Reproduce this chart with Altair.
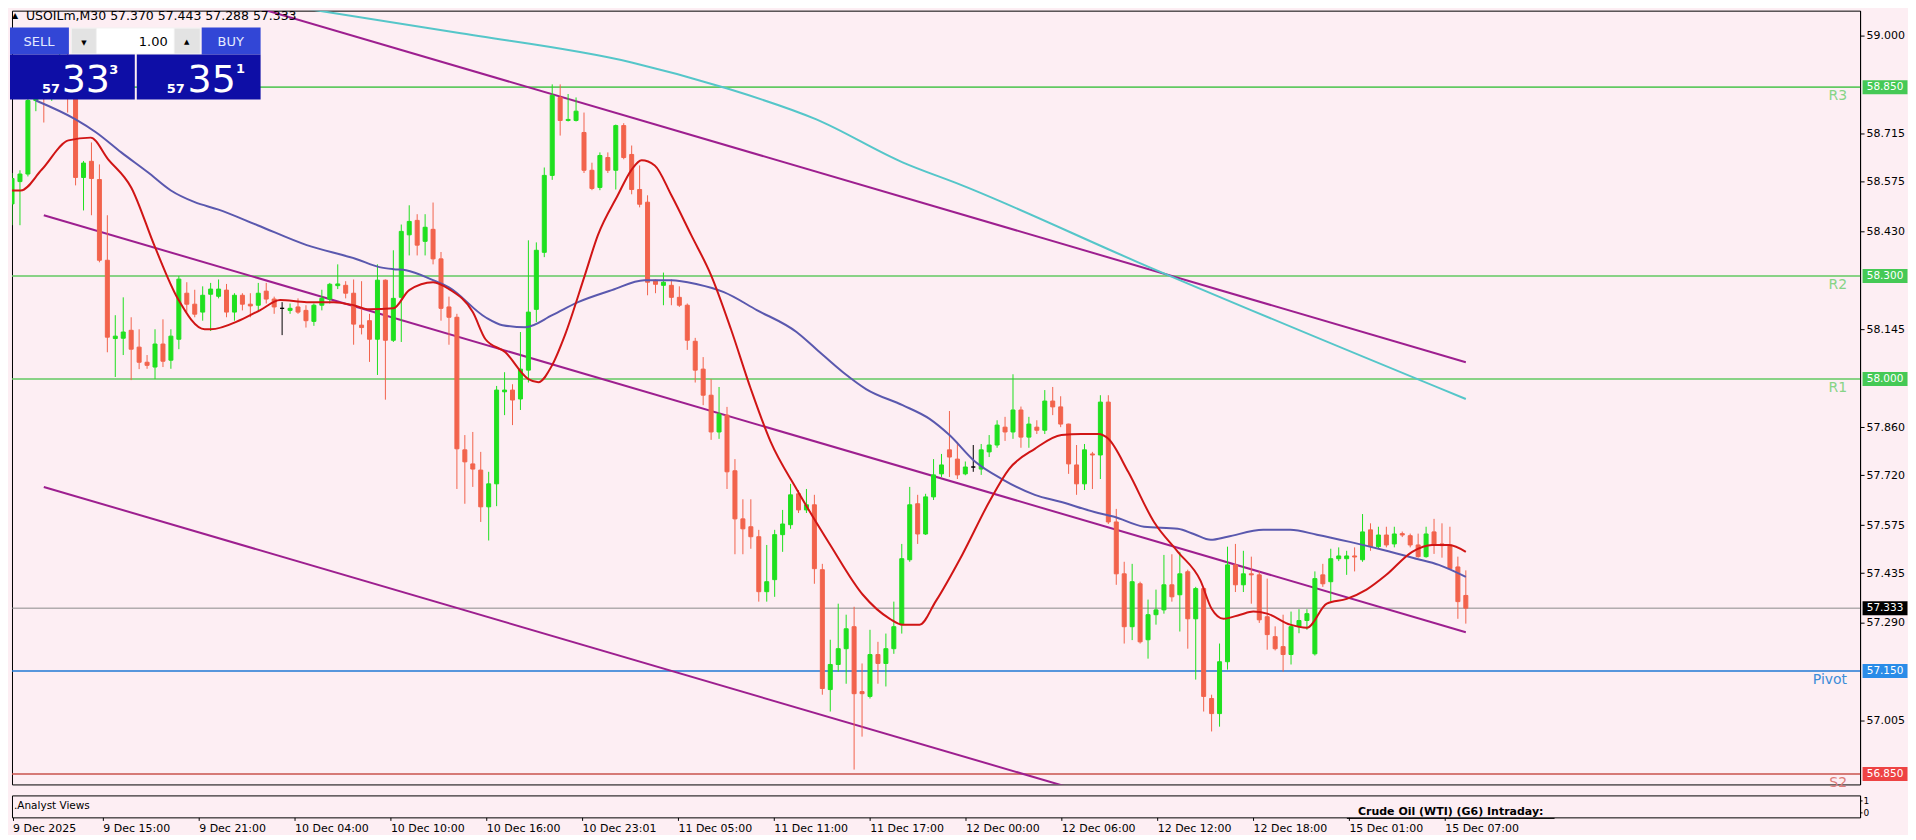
import json
import altair as alt
import pandas as pd

# ---------------- data ----------------
opens = [58.510, 58.575, 58.597, 58.811, 58.880, 58.820, 58.870, 58.900, 58.820, 58.587,
         58.634, 58.581, 58.346, 58.118, 58.119, 58.142, 58.093, 58.049, 58.035, 58.102,
         58.055, 58.116, 58.250, 58.218, 58.195, 58.247, 58.241, 58.259, 58.195, 58.244,
         58.218, 58.215, 58.256, 58.233, 58.206, 58.200, 58.210, 58.200, 58.168, 58.215,
         58.233, 58.272, 58.273, 58.250, 58.157, 58.170, 58.116, 58.288, 58.113, 58.238,
         58.420, 58.462, 58.401, 58.436, 58.350, 58.210, 58.180, 57.794, 57.753, 57.735,
         57.628, 57.695, 57.963, 57.968, 57.942, 58.026, 58.203, 58.369, 58.593, 58.820,
         58.753, 58.753, 58.718, 58.608, 58.558, 58.645, 58.608, 58.738, 58.654, 58.552,
         58.515, 58.288, 58.273, 58.273, 58.238, 58.215, 58.110, 58.029, 57.953, 57.846,
         57.895, 57.733, 57.593, 57.570, 57.541, 57.381, 57.416, 57.547, 57.576, 57.666,
         57.619, 57.634, 57.445, 57.096, 57.169, 57.215, 57.279, 57.090, 57.076, 57.198,
         57.172, 57.215, 57.285, 57.474, 57.637, 57.549, 57.657, 57.724, 57.794, 57.767,
         57.724, 57.744, 57.738, 57.788, 57.808, 57.860, 57.846, 57.910, 57.831, 57.860,
         57.851, 57.936, 57.919, 57.869, 57.750, 57.695, 57.782, 57.779, 57.933, 57.584,
         57.433, 57.279, 57.404, 57.241, 57.314, 57.328, 57.401, 57.372, 57.439, 57.302,
         57.390, 57.070, 57.026, 57.177, 57.459, 57.401, 57.433, 57.430, 57.308, 57.250,
         57.221, 57.198, 57.279, 57.297, 57.200, 57.430, 57.410, 57.477, 57.477, 57.485,
         57.474, 57.561, 57.512, 57.546, 57.520, 57.550, 57.544, 57.517, 57.483, 57.555,
         57.520, 57.517, 57.453, 57.370]
highs = [58.600, 58.608, 58.840, 58.900, 58.920, 58.930, 58.950, 58.960, 58.860, 58.635,
         58.689, 58.625, 58.477, 58.186, 58.238, 58.180, 58.145, 58.070, 58.145, 58.174,
         58.145, 58.300, 58.282, 58.260, 58.270, 58.280, 58.290, 58.277, 58.250, 58.250,
         58.250, 58.280, 58.280, 58.240, 58.224, 58.220, 58.235, 58.215, 58.220, 58.260,
         58.280, 58.334, 58.285, 58.290, 58.285, 58.190, 58.334, 58.290, 58.375, 58.450,
         58.506, 58.480, 58.480, 58.514, 58.370, 58.240, 58.190, 57.837, 57.846, 57.788,
         57.730, 57.980, 58.020, 57.985, 58.137, 58.404, 58.398, 58.616, 58.858, 58.858,
         58.830, 58.820, 58.776, 58.630, 58.660, 58.660, 58.741, 58.745, 58.680, 58.622,
         58.535, 58.290, 58.310, 58.290, 58.270, 58.220, 58.120, 58.064, 58.000, 57.977,
         57.919, 57.767, 57.650, 57.650, 57.561, 57.517, 57.561, 57.619, 57.695, 57.677,
         57.680, 57.663, 57.462, 57.241, 57.346, 57.314, 57.337, 57.172, 57.270, 57.235,
         57.259, 57.352, 57.520, 57.686, 57.663, 57.666, 57.767, 57.782, 57.907, 57.817,
         57.760, 57.808, 57.811, 57.837, 57.880, 57.890, 58.014, 57.920, 57.890, 57.880,
         57.968, 57.977, 57.950, 57.870, 57.808, 57.811, 57.788, 57.953, 57.953, 57.622,
         57.468, 57.462, 57.410, 57.358, 57.387, 57.488, 57.490, 57.497, 57.445, 57.395,
         57.395, 57.081, 57.230, 57.512, 57.520, 57.500, 57.483, 57.440, 57.419, 57.280,
         57.314, 57.323, 57.330, 57.330, 57.440, 57.462, 57.506, 57.510, 57.500, 57.510,
         57.607, 57.580, 57.570, 57.570, 57.570, 57.556, 57.550, 57.550, 57.570, 57.593,
         57.580, 57.570, 57.483, 57.443]
lows = [58.448, 58.448, 58.590, 58.780, 58.747, 58.810, 58.840, 58.776, 58.564, 58.491,
        58.477, 58.340, 58.078, 58.006, 58.070, 57.997, 58.029, 58.030, 58.000, 58.035,
        58.030, 58.087, 58.195, 58.180, 58.170, 58.140, 58.235, 58.180, 58.170, 58.200,
        58.180, 58.200, 58.220, 58.190, 58.128, 58.190, 58.190, 58.150, 58.155, 58.200,
        58.220, 58.262, 58.235, 58.100, 58.130, 58.050, 58.012, 57.940, 58.108, 58.108,
        58.360, 58.360, 58.360, 58.334, 58.170, 58.100, 57.680, 57.637, 57.686, 57.584,
        57.530, 57.630, 57.895, 57.866, 57.910, 57.990, 58.166, 58.355, 58.580, 58.709,
        58.750, 58.750, 58.600, 58.550, 58.550, 58.600, 58.552, 58.640, 58.538, 58.500,
        58.244, 58.250, 58.215, 58.215, 58.210, 58.085, 57.990, 57.924, 57.823, 57.826,
        57.680, 57.490, 57.490, 57.506, 57.352, 57.352, 57.366, 57.497, 57.564, 57.610,
        57.610, 57.404, 57.081, 57.032, 57.148, 57.113, 56.863, 56.959, 57.070, 57.113,
        57.105, 57.200, 57.259, 57.468, 57.520, 57.546, 57.648, 57.715, 57.715, 57.709,
        57.720, 57.730, 57.721, 57.773, 57.800, 57.820, 57.826, 57.800, 57.800, 57.840,
        57.840, 57.895, 57.860, 57.724, 57.663, 57.677, 57.680, 57.709, 57.578, 57.401,
        57.230, 57.240, 57.230, 57.186, 57.285, 57.317, 57.352, 57.265, 57.215, 57.125,
        57.032, 56.974, 56.988, 57.154, 57.380, 57.380, 57.346, 57.290, 57.212, 57.210,
        57.148, 57.169, 57.260, 57.270, 57.195, 57.395, 57.352, 57.470, 57.430, 57.440,
        57.468, 57.500, 57.508, 57.510, 57.510, 57.540, 57.510, 57.480, 57.480, 57.491,
        57.480, 57.445, 57.302, 57.288]
closes = [58.584, 58.597, 58.811, 58.842, 58.820, 58.870, 58.900, 58.860, 58.587, 58.629,
          58.584, 58.346, 58.122, 58.125, 58.137, 58.087, 58.049, 58.040, 58.102, 58.052,
          58.125, 58.291, 58.218, 58.189, 58.244, 58.262, 58.262, 58.195, 58.244, 58.218,
          58.213, 58.250, 58.233, 58.210, 58.206, 58.206, 58.195, 58.170, 58.215, 58.235,
          58.276, 58.277, 58.250, 58.160, 58.150, 58.116, 58.288, 58.113, 58.235, 58.430,
          58.459, 58.390, 58.442, 58.350, 58.206, 58.180, 57.797, 57.759, 57.738, 57.628,
          57.695, 57.968, 57.968, 57.939, 58.029, 58.195, 58.375, 58.593, 58.826, 58.753,
          58.756, 58.780, 58.608, 58.555, 58.651, 58.608, 58.738, 58.645, 58.552, 58.509,
          58.282, 58.276, 58.282, 58.238, 58.215, 58.113, 58.026, 57.953, 57.846, 57.898,
          57.730, 57.593, 57.564, 57.541, 57.381, 57.410, 57.547, 57.578, 57.663, 57.619,
          57.634, 57.448, 57.099, 57.169, 57.215, 57.273, 57.084, 57.084, 57.198, 57.172,
          57.215, 57.279, 57.477, 57.634, 57.549, 57.657, 57.721, 57.750, 57.773, 57.721,
          57.744, 57.744, 57.794, 57.808, 57.866, 57.846, 57.910, 57.831, 57.869, 57.851,
          57.936, 57.919, 57.869, 57.753, 57.695, 57.794, 57.779, 57.933, 57.584, 57.433,
          57.279, 57.410, 57.235, 57.314, 57.328, 57.401, 57.366, 57.433, 57.302, 57.390,
          57.076, 57.026, 57.177, 57.459, 57.401, 57.433, 57.430, 57.299, 57.256, 57.215,
          57.198, 57.279, 57.297, 57.317, 57.419, 57.404, 57.477, 57.485, 57.485, 57.482,
          57.555, 57.512, 57.546, 57.517, 57.549, 57.546, 57.517, 57.483, 57.549, 57.517,
          57.515, 57.448, 57.352, 57.333]

x_tick_labels = ["9 Dec 2025", "9 Dec 15:00", "9 Dec 21:00", "10 Dec 04:00", "10 Dec 10:00",
                 "10 Dec 16:00", "10 Dec 23:01", "11 Dec 05:00", "11 Dec 11:00", "11 Dec 17:00",
                 "12 Dec 00:00", "12 Dec 06:00", "12 Dec 12:00", "12 Dec 18:00", "15 Dec 01:00",
                 "15 Dec 07:00"]
x_tick_bars = [0.7, 12, 24, 36, 48, 60, 72, 84, 96, 108, 120, 132, 144, 156, 168, 180]

y_tick_values = [59.0, 58.715, 58.575, 58.43, 58.145, 57.86, 57.72, 57.575, 57.435, 57.29, 57.005]

# red (fast) moving average
red_ma_bar = [0, 1.1, 3.75, 7.1, 9.9, 12.1, 15, 18, 20.9, 24.25, 25, 28.75, 31.25, 33.75, 37.1,
              40.5, 43, 45, 48, 50, 53, 55, 58, 59.6, 62.1, 65, 66.25, 68, 69.6, 72.1, 73.75,
              76.25, 78, 79.25, 80.9, 83, 85.5, 88, 90.5, 93, 95.5, 98.75, 103, 107.1, 110.5,
              112.1, 114.25, 116.25, 119.6, 123, 125.5, 128.75, 132.1, 134.6, 136.75, 138,
              140.5, 143.75, 146.75, 149.6, 151, 152.5, 154.6, 156.25, 158, 160.9, 163, 165.5,
              168, 170.5, 173, 176.25, 178.75, 180.9, 183]
red_ma_val = [58.549, 58.549, 58.610, 58.695, 58.703, 58.640, 58.558, 58.384, 58.233, 58.145,
              58.145, 58.172, 58.201, 58.230, 58.224, 58.224, 58.215, 58.203, 58.206, 58.259,
              58.282, 58.262, 58.195, 58.116, 58.078, 58.000, 57.991, 58.041, 58.128, 58.302,
              58.419, 58.535, 58.610, 58.637, 58.622, 58.535, 58.419, 58.302, 58.145, 57.971,
              57.817, 57.680, 57.517, 57.372, 57.302, 57.285, 57.285, 57.352, 57.488, 57.642,
              57.738, 57.797, 57.837, 57.840, 57.840, 57.826, 57.730, 57.584, 57.497, 57.413,
              57.331, 57.302, 57.314, 57.323, 57.317, 57.285, 57.276, 57.346, 57.360, 57.387,
              57.430, 57.497, 57.517, 57.517, 57.497]

# slate-blue (medium) moving average
blue_ma_bar = [3, 8, 10.6, 13.75, 17.1, 20, 23, 25.9, 30.9, 37.1, 43.4, 46.25, 48, 49.6, 53, 55,
               59.6, 61.75, 64.6, 68, 71.25, 75.5, 79.6, 83, 86.25, 89.6, 93.75, 98.75, 101.25,
               104.6, 107.5, 112.1, 115.5, 118, 121.25, 124.6, 128.75, 132.1, 136.25, 138.75,
               142.5, 146.75, 148.75, 150.9, 153, 157.5, 160.9, 164.25, 168.4, 172.5, 176.75,
               179.6, 183]
blue_ma_val = [58.811, 58.756, 58.718, 58.660, 58.602, 58.549, 58.515, 58.494, 58.448, 58.390,
               58.349, 58.326, 58.320, 58.317, 58.288, 58.267, 58.180, 58.157, 58.151, 58.186,
               58.224, 58.259, 58.288, 58.288, 58.276, 58.253, 58.201, 58.137, 58.087, 58.020,
               57.971, 57.924, 57.884, 57.837, 57.759, 57.709, 57.663, 57.642, 57.613, 57.599,
               57.570, 57.564, 57.549, 57.532, 57.541, 57.561, 57.561, 57.547, 57.526, 57.503,
               57.477, 57.459, 57.424]

# cyan (slow) moving average
cyan_ma_bar = [28.4, 55.9, 78, 89.6, 101.25, 112.1, 119.6, 141.75, 183]
cyan_ma_val = [59.110, 59.009, 58.922, 58.849, 58.756, 58.631, 58.564, 58.340, 57.942]

# descending channel (three parallel trend lines)
channel_names = ["upper", "middle", "lower"]
channel_start_bar = [25, 4, 4]
channel_start_val = [59.121, 58.477, 57.686]
channel_end_bar = [183, 183, 140]
channel_end_val = [58.049, 57.263, 56.764]

# pivot levels
level_names = ["R3", "R2", "R1", "Pivot", "S2"]
level_values = [58.850, 58.300, 58.000, 57.150, 56.850]
current_price = 57.333

symbol_line = "USOILm,M30  57.370 57.443 57.288 57.333"
sell_price = ["57", "33", "3"]
buy_price = ["57", "35", "1"]

# ---------------- styling ----------------
BG = "#FDEEF3"
FONT = "DejaVu Sans"
UP = "#1FE01F"
DOWN = "#F2634C"
W = 1851
H = 775
PX_PER_BAR = 8.0
X0 = 0.625
Y_TOP = 59.0727
Y_BOT = Y_TOP - H / 344.0

xscale = alt.Scale(domain=[X0, X0 + W / PX_PER_BAR], nice=False, zero=False)
yscale = alt.Scale(domain=[Y_BOT, Y_TOP], nice=False, zero=False)
yaxis = alt.Axis(orient="right", values=y_tick_values, format=".3f", title=None, grid=False,
                 tickSize=4, labelPadding=2, labelFont=FONT, labelFontSize=11,
                 labelColor="#000000", domainColor="#000000", tickColor="#000000")


def xe(field):
    return alt.X(field, type="quantitative", scale=xscale, axis=None)


def ye(field):
    return alt.Y(field, type="quantitative", scale=yscale, axis=yaxis)


# candles
cdf = pd.DataFrame({"i": list(range(len(opens))), "o": opens, "h": highs, "l": lows, "c": closes})
cdf["col"] = [UP if c > o else (DOWN if c < o else "#000000") for o, c in zip(opens, closes)]
col = alt.Color("col:N", scale=None)

wicks = alt.Chart(cdf).mark_rule(strokeWidth=1, clip=True).encode(
    x=xe("i"), y=ye("l"), y2="h", color=col)
bodies = alt.Chart(cdf).mark_bar(size=4, strokeWidth=1, clip=True).encode(
    x=xe("i"), y=ye("o"), y2="c", color=col, stroke=alt.Stroke("col:N", scale=None))


# lines
def ma_layer(bars, vals, color, width):
    d = pd.DataFrame({"i": bars, "p": vals})
    return alt.Chart(d).mark_line(color=color, strokeWidth=width, clip=True,
                                  interpolate="monotone").encode(x=xe("i"), y=ye("p"))


red_l = ma_layer(red_ma_bar, red_ma_val, "#D01515", 2)
blue_l = ma_layer(blue_ma_bar, blue_ma_val, "#5A58AE", 2)
cyan_l = ma_layer(cyan_ma_bar, cyan_ma_val, "#55C6C9", 2)

ch_rows = []
for n, sb, sv, eb, ev in zip(channel_names, channel_start_bar, channel_start_val,
                             channel_end_bar, channel_end_val):
    ch_rows.append({"name": n, "i": sb, "p": sv})
    ch_rows.append({"name": n, "i": eb, "p": ev})
chdf = pd.DataFrame(ch_rows)
channel = alt.Chart(chdf).mark_line(color="#9D1F8F", strokeWidth=2, clip=True).encode(
    x=xe("i"), y=ye("p"), detail="name:N")

# levels
line_colors = {"R3": "#62C962", "R2": "#62C962", "R1": "#62C962", "Pivot": "#1F78D4", "S2": "#C9524D"}
text_colors = {"R3": "#86D486", "R2": "#86D486", "R1": "#86D486", "Pivot": "#3C8CD8", "S2": "#DE7C79"}
box_colors = {"R3": "#45C955", "R2": "#45C955", "R1": "#45C955", "Pivot": "#2A8CE8", "S2": "#EE4343"}
ldf = pd.DataFrame({"name": level_names, "value": level_values})
ldf["lc"] = ldf["name"].map(line_colors)
ldf["tc"] = ldf["name"].map(text_colors)

level_rules = alt.Chart(ldf).mark_rule(strokeWidth=1.6).encode(
    y=ye("value"), color=alt.Color("lc:N", scale=None))
level_text = alt.Chart(ldf).mark_text(
    align="right", baseline="middle", font=FONT, fontSize=14, dy=9).encode(
    x=alt.value(1838), y=ye("value"), text="name:N", color=alt.Color("tc:N", scale=None))

cur_df = pd.DataFrame({"value": [current_price]})
cur_rule = alt.Chart(cur_df).mark_rule(strokeWidth=1, color="#8A8A8A").encode(y=ye("value"))

box_df = pd.DataFrame({"value": level_values + [current_price],
                       "bc": [box_colors[n] for n in level_names] + ["#000000"]})
right_boxes = alt.Chart(box_df).mark_tick(orient="horizontal", thickness=14, size=45, opacity=1).encode(
    x=alt.value(1876), y=ye("value"), color=alt.Color("bc:N", scale=None))
right_text = alt.Chart(box_df).mark_text(align="center", baseline="middle", font=FONT,
                                         fontSize=10.5, color="#FFFFFF").encode(
    x=alt.value(1876), y=ye("value"), text=alt.Text("value:Q", format=".3f"))

# trading panel decorations
ONE = alt.Data(values=[{}])


def box(x, y, w, h, color):
    return alt.Chart(ONE).mark_rect(color=color).encode(
        x=alt.value(x), x2=alt.value(x + w), y=alt.value(y), y2=alt.value(y + h))


def txt(s, x, y, size, color="#FFFFFF", weight="normal", align="center", font=FONT):
    return alt.Chart(ONE).mark_text(text=s, fontSize=size, color=color, fontWeight=weight,
                                    align=align, baseline="middle", font=font).encode(
        x=alt.value(x), y=alt.value(y))


panel = [
    box(-2, 17, 59, 27, "#3246D6"),
    box(59, 17, 130, 27, "#F2F2F2"),
    box(60, 18, 24, 25, "#E3E3E3"),
    box(85, 18, 77, 25, "#FFFFFF"),
    box(163, 18, 25, 25, "#E3E3E3"),
    box(190, 17, 59, 27, "#3246D6"),
    box(-2, 44, 125, 45, "#0E0EA6"),
    box(125, 44, 124, 45, "#0E0EA6"),
    txt("SELL", 27, 31, 13, "#E4EAFF"),
    txt("BUY", 219, 31, 13, "#E4EAFF"),
    txt("1.00", 156, 31, 13, "#000000", align="right"),
    txt("▼", 72, 32, 7, "#000000"),
    txt("▲", 175, 31, 7, "#000000"),
    txt(sell_price[0], 39, 78, 13, weight="bold"),
    txt(sell_price[1], 74, 70, 38),
    txt(sell_price[2], 102, 59, 13, weight="bold"),
    txt(buy_price[0], 164, 78, 13, weight="bold"),
    txt(buy_price[1], 200, 70, 38),
    txt(buy_price[2], 229, 58, 13, weight="bold"),
    txt("▲", 3, 5, 8, "#000000"),
    txt(symbol_line, 14, 5, 12.5, "#000000", align="left"),
]

main = alt.layer(
    level_rules, cur_rule, channel, cyan_l, wicks, bodies, blue_l, red_l,
    level_text, right_boxes, right_text, *panel
).properties(width=W, height=H)

# sub window with the time axis
xaxis = alt.Axis(values=x_tick_bars, title=None, grid=False, tickSize=3, labelPadding=2,
                 labelFont=FONT, labelFontSize=11, labelColor="#000000", labelAlign="left",
                 domain=False, tickColor="#000000", labelFlush=False,
                 labelExpr=json.dumps(x_tick_labels) + "[round(datum.value / 12)]")
sub_df = pd.DataFrame({"i": [X0, X0 + W / PX_PER_BAR], "v": [0, 1]})
sub_base = alt.Chart(sub_df).mark_point(opacity=0).encode(
    x=alt.X("i:Q", scale=xscale, axis=xaxis),
    y=alt.Y("v:Q", scale=alt.Scale(domain=[-0.45, 1.45], nice=False),
            axis=alt.Axis(orient="right", values=[0, 1], title=None, grid=False, tickSize=2,
                          labelPadding=1, labelFont=FONT, labelFontSize=9,
                          labelColor="#000000", domainColor="#000000", tickColor="#000000")))
sub_t1 = txt(".Analyst Views", 2, 11, 10.5, "#000000", align="left")
sub_t2 = txt("Crude Oil (WTI) (G6) Intraday:", 1441, 17, 11, "#000000", weight="bold")
sub_u = alt.Chart(ONE).mark_rule(color="#000000", strokeWidth=1).encode(
    x=alt.value(1337), x2=alt.value(1545), y=alt.value(23))
sub = alt.layer(sub_base, sub_t1, sub_t2, sub_u).properties(width=W, height=22)

chart = alt.vconcat(main, sub, spacing=3).properties(
    padding=0, background=BG
).configure_view(stroke="#000000", strokeWidth=1).configure_axis(grid=False)

chart.save("out.html", embed_options={"renderer": "svg", "actions": False})
